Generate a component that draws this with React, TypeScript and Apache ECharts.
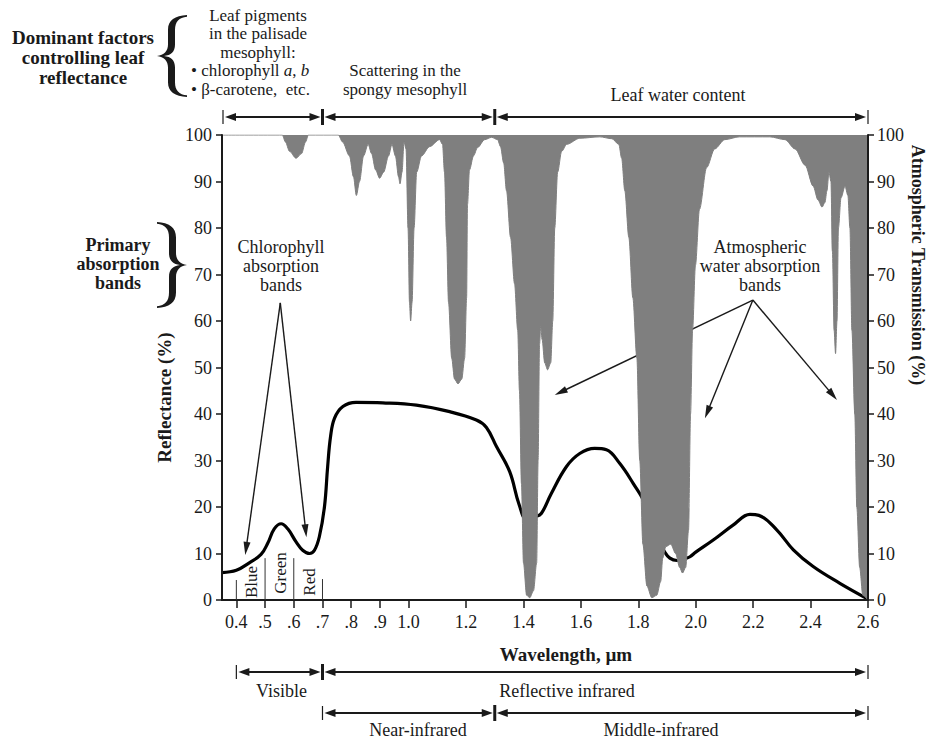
import React, { useEffect, useRef } from "react";
import * as echarts from "echarts";

// ---------- data ----------
const wavelengthTicks = [0.4, 0.5, 0.6, 0.7, 0.8, 0.9, 1.0, 1.2, 1.4, 1.6, 1.8, 2.0, 2.2, 2.4, 2.6];
const wavelengthTickLabels = ["0.4", ".5", ".6", ".7", ".8", ".9", "1.0", "1.2", "1.4", "1.6", "1.8", "2.0", "2.2", "2.4", "2.6"];

const reflectanceWavelength = [
  0.35, 0.4, 0.445, 0.486, 0.51, 0.532, 0.556, 0.579, 0.608, 0.631,
  0.655, 0.672, 0.689, 0.707, 0.718, 0.728, 0.742, 0.771, 0.817, 0.91,
  1.027, 1.143, 1.236, 1.271, 1.306, 1.352, 1.385, 1.41, 1.44, 1.462,
  1.497, 1.55, 1.596, 1.648, 1.689, 1.735, 1.782, 1.823, 1.86, 1.89,
  1.91, 1.935, 1.96, 1.98, 2.0, 2.061, 2.13, 2.189, 2.22, 2.282,
  2.34, 2.409, 2.502, 2.6,
];
const reflectancePercent = [
  5.9, 6.4, 8.0, 9.8, 12.3, 15.3, 16.4, 15.3, 12.5, 10.7,
  10.0, 10.7, 13.6, 20.1, 28.7, 35.1, 39.1, 41.6, 42.5, 42.4,
  41.9, 40.5, 38.7, 37.1, 33.0, 27.6, 20.5, 17.5, 17.9, 18.6,
  22.9, 28.7, 31.5, 32.6, 32.3, 29.4, 25.1, 20.8, 14, 10.5,
  9.0, 8.5, 8.8, 9.3, 10.3, 12.9, 16.1, 18.4, 18.2, 15.1,
  10.8, 7.2, 3.6, 0.2,
];

const transmissionWavelength = [
  0.35, 0.55, 0.56, 0.571, 0.585, 0.608, 0.627, 0.641, 0.651, 0.755,
  0.77, 0.794, 0.808, 0.818, 0.829, 0.843, 0.859, 0.871, 0.885, 0.899,
  0.913, 0.93, 0.942, 0.954, 0.965, 0.97, 0.977, 0.984, 0.991, 0.998,
  1.003, 1.007, 1.012, 1.019, 1.028, 1.045, 1.073, 1.108, 1.118, 1.125,
  1.132, 1.139, 1.15, 1.16, 1.172, 1.185, 1.195, 1.202, 1.205, 1.212,
  1.226, 1.24, 1.265, 1.289, 1.31, 1.32, 1.331, 1.341, 1.355, 1.369,
  1.38, 1.386, 1.393, 1.4, 1.411, 1.422, 1.435, 1.446, 1.451, 1.456,
  1.46, 1.465, 1.474, 1.484, 1.495, 1.502, 1.509, 1.519, 1.533, 1.551,
  1.596, 1.666, 1.708, 1.732, 1.742, 1.753, 1.767, 1.781, 1.795, 1.805,
  1.816, 1.83, 1.847, 1.864, 1.878, 1.885, 1.896, 1.913, 1.93, 1.944,
  1.954, 1.965, 1.975, 1.982, 1.989, 1.999, 2.013, 2.038, 2.066, 2.101,
  2.152, 2.258, 2.311, 2.346, 2.381, 2.409, 2.426, 2.44, 2.45, 2.457,
  2.464, 2.471, 2.476, 2.482, 2.487, 2.492, 2.497, 2.506, 2.52, 2.53,
  2.537, 2.544, 2.554, 2.561, 2.571, 2.582, 2.6,
];
const transmissionPercent = [
  100, 100, 100, 98.5, 96.5, 95, 96, 98.5, 100, 100,
  98.5, 95.5, 91, 87, 90, 95.5, 98, 96, 92.5, 90.7,
  92, 95.5, 98, 95.5, 91, 89.5, 92, 98.5, 97, 80,
  64, 60, 64, 80, 92, 95.5, 97.5, 99, 98, 92,
  78, 64, 52, 47.5, 46.5, 47.5, 52, 65, 85, 92.5,
  95.5, 97.3, 99, 99.5, 99, 97.5, 94, 88, 78, 68,
  58, 45, 25, 8, 1, 0.5, 2, 8, 30, 55,
  59, 56, 51, 49.5, 51, 60, 80, 92, 96.5, 98,
  99.3, 99.6, 99.2, 98, 95, 88, 78, 65, 52, 30,
  12, 3, 0.5, 1, 4, 9, 11.5, 12, 10, 7,
  5.8, 7, 15, 40, 58, 72, 84, 93, 97, 99,
  99.6, 99.6, 99, 97, 93.5, 89, 86, 84.5, 85.5, 88,
  92, 90, 75, 58, 53, 60, 80, 86.5, 89, 87,
  80, 58, 40, 20, 7, 1, 0,
];

// ---------- styling ----------
const SERIF = '"Liberation Serif", "Times New Roman", serif';
const INK = "#1a1a1a";
const GRAY = "#7f7f7f";

const BRACE_D =
  "M30,0 C18,1 11,6 11,18 L11,36 C11,44 7,49 0,50 C7,51 11,56 11,64 L11,82 C11,94 18,99 30,100 L30,98 C22,97 18,92 18,82 L18,64 C18,55 14,51 7,50 C14,49 18,45 18,36 L18,18 C18,8 22,3 30,2 Z";
let braceRegistered = false;
function ensureBrace() {
  if (braceRegistered) return;
  echarts.graphic.registerShape("brace", echarts.graphic.extendPath(BRACE_D, {}));
  braceRegistered = true;
}

type TOpts = { size?: number; bold?: boolean; align?: string; rotation?: number; rich?: any };
function txt(t: string, x: number, y: number, o: TOpts = {}) {
  const align = o.align || "center";
  return {
    type: "text",
    x,
    y,
    rotation: o.rotation || 0,
    z: 30,
    silent: true,
    style: {
      text: t,
      fill: INK,
      fontFamily: SERIF,
      fontSize: o.size || 18,
      fontWeight: o.bold ? "bold" : "normal",
      align,
      verticalAlign: "middle",
      textAlign: align,
      textVerticalAlign: "middle",
      rich: o.rich,
    },
  };
}

function head(tx: number, ty: number, ux: number, uy: number, L: number, W: number, z: number) {
  const bx = tx - ux * L;
  const by = ty - uy * L;
  const nx = -uy;
  const ny = ux;
  return {
    type: "polygon",
    z,
    silent: true,
    shape: {
      points: [
        [tx, ty],
        [bx + (nx * W) / 2, by + (ny * W) / 2],
        [bx - (nx * W) / 2, by - (ny * W) / 2],
      ],
    },
    style: { fill: INK },
  };
}

function arrow(x1: number, y1: number, x2: number, y2: number, both: boolean, width: number, L: number, W: number, z = 25) {
  const dx = x2 - x1;
  const dy = y2 - y1;
  const len = Math.hypot(dx, dy);
  const ux = dx / len;
  const uy = dy / len;
  const sx = both ? x1 + ux * L * 0.7 : x1;
  const sy = both ? y1 + uy * L * 0.7 : y1;
  const els: any[] = [
    {
      type: "line",
      z,
      silent: true,
      shape: { x1: sx, y1: sy, x2: x2 - ux * L * 0.7, y2: y2 - uy * L * 0.7 },
      style: { stroke: INK, lineWidth: width },
    },
    head(x2, y2, ux, uy, L, W, z),
  ];
  if (both) els.push(head(x1, y1, -ux, -uy, L, W, z));
  return els;
}

function vtick(x: number, y: number, half: number, width: number) {
  return {
    type: "line",
    z: 25,
    silent: true,
    shape: { x1: x, y1: y - half, x2: x, y2: y + half },
    style: { stroke: INK, lineWidth: width },
  };
}

export default function App() {
  const ref = useRef<HTMLDivElement>(null);

  useEffect(() => {
    ensureBrace();
    const chart = echarts.init(ref.current!, null, { renderer: "svg" });

    const reflectanceData = reflectanceWavelength.map((w, i) => [w, reflectancePercent[i]]);
    const transmissionData = transmissionWavelength.map((w, i) => [w, transmissionPercent[i]]);

    const tickLabelStyle = { fontFamily: SERIF, fontSize: 18, color: INK };

    chart.setOption({
      animation: false,
      backgroundColor: "#ffffff",
      grid: { left: 222, right: 64, top: 135, bottom: 141, containLabel: false, outerBoundsMode: "none" },
      xAxis: [
        {
          type: "value",
          min: 0.35,
          max: 2.6,
          z: 10,
          axisLine: { show: true, lineStyle: { color: INK, width: 2 } },
          axisTick: { show: true, customValues: wavelengthTicks, length: 8, lineStyle: { color: INK, width: 1.5 } },
          axisLabel: {
            customValues: wavelengthTicks,
            margin: 13,
            ...tickLabelStyle,
            formatter: (v: number) => {
              const i = wavelengthTicks.findIndex((t) => Math.abs(t - v) < 1e-6);
              return i >= 0 ? wavelengthTickLabels[i] : "";
            },
          },
          splitLine: { show: false },
          name: "Wavelength, µm",
          nameLocation: "middle",
          nameGap: 45,
          nameTextStyle: { fontFamily: SERIF, fontSize: 19, fontWeight: "bold", color: INK, padding: [0, 0, 0, 42] },
        },
        {
          type: "value",
          position: "top",
          min: 0.35,
          max: 2.6,
          z: 10,
          axisLine: { show: true, lineStyle: { color: INK, width: 2 } },
          axisTick: { show: false },
          axisLabel: { show: false },
          splitLine: { show: false },
        },
      ],
      yAxis: [
        {
          type: "value",
          position: "left",
          min: 0,
          max: 100,
          interval: 10,
          z: 10,
          axisLine: { show: true, lineStyle: { color: INK, width: 2 } },
          axisTick: { show: true, length: 6, lineStyle: { color: INK, width: 1.5 } },
          axisLabel: { margin: 10, ...tickLabelStyle },
          splitLine: { show: false },
          name: "Reflectance (%)",
          nameLocation: "middle",
          nameRotate: 90,
          nameGap: 40,
          nameTextStyle: { fontFamily: SERIF, fontSize: 19, fontWeight: "bold", color: INK, padding: [0, 60, 0, 0] },
        },
        {
          type: "value",
          position: "right",
          min: 0,
          max: 100,
          interval: 10,
          z: 10,
          axisLine: { show: true, lineStyle: { color: INK, width: 2 } },
          axisTick: { show: true, length: 6, lineStyle: { color: INK, width: 1.5 } },
          axisLabel: { margin: 9, ...tickLabelStyle },
          splitLine: { show: false },
        },
      ],
      series: [
        {
          name: "Reflectance",
          type: "line",
          xAxisIndex: 0,
          yAxisIndex: 0,
          data: reflectanceData,
          smooth: 0.4,
          showSymbol: false,
          lineStyle: { color: "#000", width: 3.2 },
          z: 1,
        },
        {
          name: "Atmospheric transmission",
          type: "line",
          xAxisIndex: 0,
          yAxisIndex: 1,
          data: transmissionData,
          smooth: 0.3,
          smoothMonotone: "x",
          showSymbol: false,
          lineStyle: { color: GRAY, width: 1 },
          areaStyle: { color: GRAY, opacity: 1, origin: "end" },
          z: 4,
        },
      ],
    });

    const X = (w: number) => chart.convertToPixel({ xAxisIndex: 0 }, w) as number;
    const P = (w: number, v: number) => chart.convertToPixel({ xAxisIndex: 0, yAxisIndex: 0 }, [w, v]) as number[];

    const els: any[] = [];

    // Right axis title
    els.push(txt("Atmospheric Transmission (%)", 918, 265, { bold: true, size: 18, rotation: -Math.PI / 2 }));

    // Top-left header
    els.push(txt("Dominant factors", 83, 37, { bold: true, size: 19 }));
    els.push(txt("controlling leaf", 83, 57, { bold: true, size: 19 }));
    els.push(txt("reflectance", 83, 77, { bold: true, size: 19 }));
    els.push({ type: "brace", x: 157, y: 15, scaleX: 1, scaleY: 0.82, z: 25, silent: true, style: { fill: INK } });

    const fs = 17;
    els.push(txt("Leaf pigments", 258, 15, { size: fs }));
    els.push(txt("in the palisade", 258, 33.5, { size: fs }));
    els.push(txt("mesophyll:", 258, 52, { size: fs }));
    els.push(
      txt("{n|• chlorophyll }{i|a}{n|, }{i|b}", 191, 70.5, {
        align: "left",
        size: fs,
        rich: {
          n: { fontFamily: SERIF, fontSize: fs, fill: INK, color: INK },
          i: { fontFamily: SERIF, fontSize: fs, fontStyle: "italic", fill: INK, color: INK },
        },
      })
    );
    els.push(txt("• β-carotene,  etc.", 191, 89, { align: "left", size: fs }));
    els.push(txt("Scattering in the", 405, 70.5, { size: fs }));
    els.push(txt("spongy mesophyll", 405, 89, { size: fs }));
    els.push(txt("Leaf water content", 678, 95));

    // Top arrow row
    const yTop = 117;
    const x035 = X(0.35), x07 = X(0.7), x13 = X(1.3), x26 = X(2.6), x04 = X(0.4);
    els.push(vtick(x035 + 1, yTop, 7, 1.2));
    els.push(...arrow(x035 + 3, yTop, x07 - 2, yTop, true, 2, 11, 8));
    els.push(vtick(x07, yTop, 8, 3));
    els.push(...arrow(x07 + 2, yTop, x13 - 2, yTop, true, 2, 11, 8));
    els.push(vtick(x13, yTop, 8, 3));
    els.push(...arrow(x13 + 2, yTop, x26 - 2, yTop, true, 2, 11, 8));
    els.push(vtick(x26, yTop, 7, 1.2));

    // Bottom arrow rows
    const yR1 = 672;
    els.push(vtick(x04, yR1, 7, 1.2));
    els.push(...arrow(x04 + 2, yR1, x07 - 2, yR1, true, 2, 11, 8));
    els.push(vtick(x07, yR1, 8, 3));
    els.push(...arrow(x07 + 2, yR1, x26 - 2, yR1, true, 2, 11, 8));
    els.push(vtick(x26, yR1, 7, 1.2));
    els.push(txt("Visible", (x04 + x07) / 2 + 2, 691));
    els.push(txt("Reflective infrared", 567, 691));

    const yR2 = 713;
    els.push(vtick(x07, yR2, 7, 1.2));
    els.push(...arrow(x07 + 2, yR2, x13 - 2, yR2, true, 2, 11, 8));
    els.push(vtick(x13, yR2, 8, 3));
    els.push(...arrow(x13 + 2, yR2, x26 - 2, yR2, true, 2, 11, 8));
    els.push(vtick(x26, yR2, 7, 1.2));
    els.push(txt("Near-infrared", 418, 730));
    els.push(txt("Middle-infrared", 661, 730));

    // Primary absorption bands
    els.push(txt("Primary", 118, 245, { bold: true, size: 18 }));
    els.push(txt("absorption", 118, 264, { bold: true, size: 18 }));
    els.push(txt("bands", 118, 283, { bold: true, size: 18 }));
    els.push({ type: "brace", x: 187, y: 222, scaleX: -1, scaleY: 0.86, z: 25, silent: true, style: { fill: INK } });

    // Chlorophyll absorption bands
    els.push(txt("Chlorophyll", 281, 247));
    els.push(txt("absorption", 281, 266));
    els.push(txt("bands", 281, 285));
    const apexC = P(0.553, 63.9);
    const cl = P(0.431, 9.7);
    const cr = P(0.644, 13.5);
    els.push(...arrow(apexC[0], apexC[1], cl[0], cl[1], false, 1.4, 13, 7));
    els.push(...arrow(apexC[0], apexC[1], cr[0], cr[1], false, 1.4, 13, 7));

    // Atmospheric water absorption bands
    els.push(txt("Atmospheric", 760, 247));
    els.push(txt("water absorption", 760, 266));
    els.push(txt("bands", 760, 285));
    const apexA = P(2.199, 64.5);
    const a1 = P(1.509, 44.1);
    const a2 = P(2.032, 39.1);
    const a3 = P(2.492, 43.0);
    els.push(...arrow(apexA[0], apexA[1], a1[0], a1[1], false, 1.4, 13, 7, 1));
    els.push(...arrow(apexA[0], apexA[1], a2[0], a2[1], false, 1.4, 13, 7, 1));
    els.push(...arrow(apexA[0], apexA[1], a3[0], a3[1], false, 1.4, 13, 7, 1));

    // Blue / Green / Red band markers
    const bandLine = (w: number, top: number) => {
      const p0 = P(w, 0);
      const p1 = P(w, top);
      return {
        type: "line",
        z: 25,
        silent: true,
        shape: { x1: p0[0], y1: p0[1], x2: p1[0], y2: p1[1] },
        style: { stroke: "#333", lineWidth: 1 },
      };
    };
    els.push(bandLine(0.4, 4.3), bandLine(0.5, 9), bandLine(0.6, 9), bandLine(0.7, 4.5));
    els.push(txt("Blue", X(0.452), 582, { size: 17, rotation: Math.PI / 2 }));
    els.push(txt("Green", X(0.553), 573, { size: 17, rotation: Math.PI / 2 }));
    els.push(txt("Red", X(0.655), 582, { size: 17, rotation: Math.PI / 2 }));

    chart.setOption({ graphic: { elements: els } });

    return () => chart.dispose();
  }, []);

  return (
    <div
      ref={ref}
      style={{ position: "absolute", left: 0, top: 0, width: 932, height: 741, background: "#fff" }}
    />
  );
}
